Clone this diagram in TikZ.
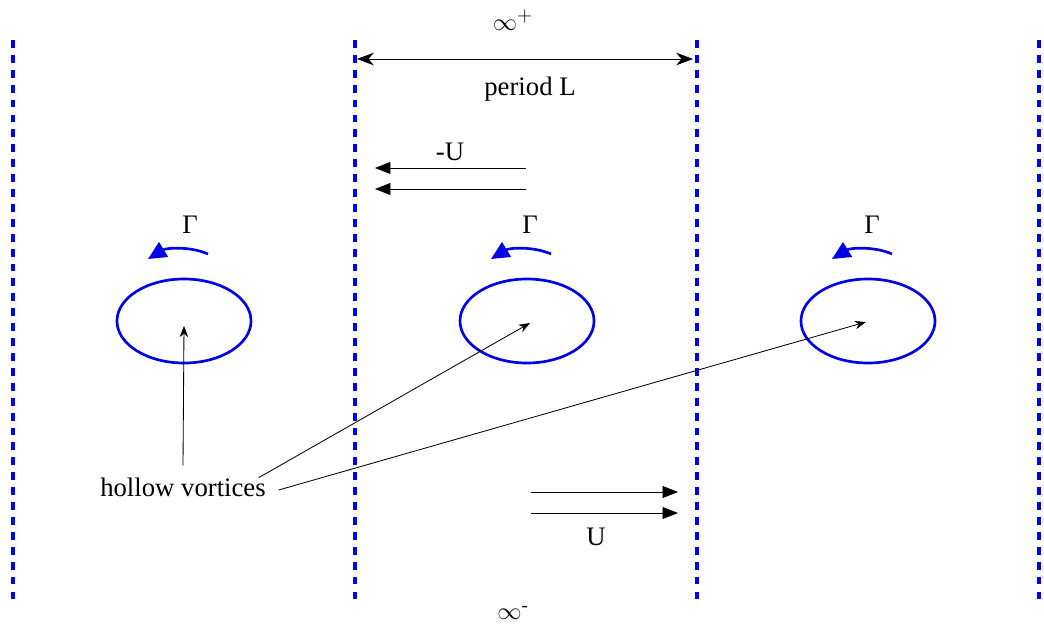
\documentclass[tikz,border=0pt]{standalone}
\usepackage{fontspec}
\setmainfont{Liberation Serif}
\usetikzlibrary{arrows.meta,shapes.geometric}
\definecolor{wallblue}{RGB}{0,0,230}

\tikzset{
  wall/.style={draw=wallblue,line width=2.2pt,dash pattern=on 5.6pt off 5pt},
  vortex/.style={draw=wallblue,line width=1.9pt,ellipse,inner sep=0pt,
    minimum width=3.35cm,minimum height=2.1cm},
  circ/.style={draw=wallblue,line width=1.9pt,-{Triangle[length=13pt,width=12pt]}},
  flow/.style={line width=0.6pt,-{Triangle[length=11pt,width=8.5pt]}},
  pointer/.style={line width=0.6pt,-{Stealth[length=8pt,width=6pt]}},
}

\begin{document}
\begin{tikzpicture}[x=0.025cm,y=-0.025cm,font=\fontsize{19}{22}\selectfont]
\useasboundingbox (0,0) rectangle (1044,630);

% periodic walls
\coordinate (W1t) at (13,40);   \coordinate (W1b) at (13,600);
\coordinate (W2t) at (355,40);  \coordinate (W2b) at (355,600);
\coordinate (W3t) at (697,40);  \coordinate (W3b) at (697,600);
\coordinate (W4t) at (1039,40); \coordinate (W4b) at (1039,600);
\draw[wall](W1t)--(W1b); \draw[wall](W2t)--(W2b);
\draw[wall](W3t)--(W3b); \draw[wall](W4t)--(W4b);

\node(Itop) at (513,20){$\infty^+$};
\node(Ibot) at (513,613){$\infty$\textsuperscript{-}};

% period
\coordinate (P1) at (357,59); \coordinate (P2) at (693,59);
\draw[line width=0.6pt,{Stealth[length=12pt,width=9pt]}-{Stealth[length=12pt,width=9pt]}](P1)--(P2);
\node(PL) at (530,89){period L};

% vortices
\node[vortex](V1) at (184,321){};
\node[vortex](V2) at (527,321){};
\node[vortex](V3) at (868,321){};
\draw[circ]([shift={(24,-67)}]V1.center) .. controls ([shift={(6,-75)}]V1.center) and ([shift={(-18,-73)}]V1.center) .. ([shift={(-36,-62)}]V1.center);
\draw[circ]([shift={(24,-67)}]V2.center) .. controls ([shift={(6,-75)}]V2.center) and ([shift={(-18,-73)}]V2.center) .. ([shift={(-36,-62)}]V2.center);
\draw[circ]([shift={(24,-67)}]V3.center) .. controls ([shift={(6,-75)}]V3.center) and ([shift={(-18,-73)}]V3.center) .. ([shift={(-36,-62)}]V3.center);
\node(G1) at ([shift={(6,-96)}]V1.center){Γ};
\node(G2) at ([shift={(3,-96)}]V2.center){Γ};
\node(G3) at ([shift={(4,-96)}]V3.center){Γ};

% upstream flow
\coordinate (A1) at (526,168); \coordinate (A2) at (375,168);
\coordinate (A3) at (526,189); \coordinate (A4) at (375,189);
\draw[flow](A1)--(A2); \draw[flow](A3)--(A4);
\node(MU) at (450,152){-U};

% downstream flow
\coordinate (B1) at (531,492); \coordinate (B2) at (678,492);
\coordinate (B3) at (531,513); \coordinate (B4) at (678,513);
\draw[flow](B1)--(B2); \draw[flow](B3)--(B4);
\node(PU) at (596,537){U};

% labels
\node(HV) at (183,487){hollow vortices};
\draw[pointer]([yshift=5pt]HV.north)--([yshift=-3.5pt]V1.center);
\draw[pointer]([shift={(-12,5)}]HV.north east)--([shift={(3,2)}]V2.center);
\draw[pointer]([shift={(8,3)}]HV.east)--([shift={(-2,1)}]V3.center);
\end{tikzpicture}
\end{document}
